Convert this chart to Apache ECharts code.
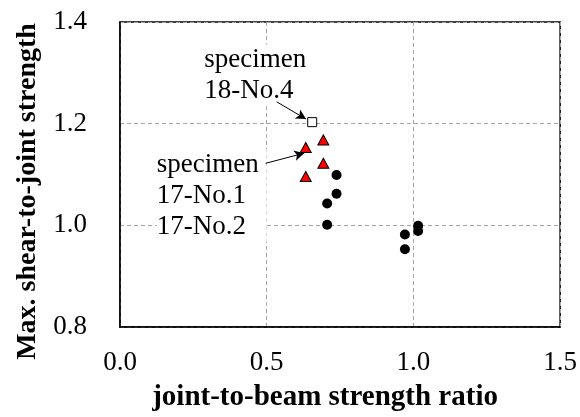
<!DOCTYPE html>
<html>
<head>
<meta charset="utf-8">
<script src="https://cdn.jsdelivr.net/npm/echarts@6/dist/echarts.min.js"></script>
<style>
  html, body { margin: 0; padding: 0; background: #fff; }
  #chart { width: 580px; height: 417px; }
</style>
</head>
<body>
<div id="chart"></div>
<script>
// measured points
const circleX = [0.738, 0.738, 0.706, 0.706, 0.971, 0.971, 1.016, 1.016]
const circleY = [1.099, 1.062, 1.043, 1.001, 0.982, 0.953, 0.999, 0.989]
const triX = [0.693, 0.633, 0.693, 0.633]
const triY = [1.168, 1.153, 1.122, 1.096]
const squareX = [0.655]
const squareY = [1.203]

const xTicks = [0, 0.5, 1.0, 1.5]
const yTicks = [0.8, 1.0, 1.2, 1.4]

const note18 = ['specimen', '18-No.4']
const note17 = ['specimen', '17-No.1', '17-No.2']

const FONT = '"Times New Roman", "Liberation Serif", serif'

function pairs(xs, ys) {
  return xs.map((x, i) => [x, ys[i]])
}

const chart = echarts.init(document.getElementById('chart'))

const option = {
  animation: false,
  grid: {
    left: 120,
    right: 16,
    top: 22,
    bottom: 90,
    show: true,
    borderColor: '#000',
    borderWidth: 1.5
  },
  xAxis: {
    type: 'value',
    min: xTicks[0],
    max: xTicks[xTicks.length - 1],
    interval: 0.5,
    name: 'joint-to-beam strength ratio',
    nameLocation: 'middle',
    nameGap: 56,
    nameTextStyle: {
      fontFamily: FONT, fontSize: 29, fontWeight: 'bold', color: '#000',
      padding: [0, 30, 0, 0]
    },
    axisLine: { show: true, lineStyle: { color: '#000', width: 1.5 } },
    axisTick: { show: false },
    axisLabel: {
      margin: 22,
      fontFamily: FONT, fontSize: 27, color: '#000',
      formatter: v => v.toFixed(1)
    },
    splitLine: { show: true, lineStyle: { type: [4, 3], color: '#a6a6a6', width: 1 } }
  },
  yAxis: {
    type: 'value',
    min: yTicks[0],
    max: yTicks[yTicks.length - 1],
    interval: 0.2,
    name: 'Max. shear-to-joint strength',
    nameLocation: 'middle',
    nameGap: 78,
    nameTextStyle: {
      fontFamily: FONT, fontSize: 28, fontWeight: 'bold', color: '#000',
      padding: [0, 34, 0, 0]
    },
    axisLine: { show: true, lineStyle: { color: '#000', width: 1.5 } },
    axisTick: { show: false },
    axisLabel: {
      margin: 33,
      fontFamily: FONT, fontSize: 27, color: '#000',
      formatter: v => v.toFixed(1)
    },
    splitLine: { show: true, lineStyle: { type: [4, 3], color: '#a6a6a6', width: 1 } }
  },
  series: [
    {
      name: 'circle',
      type: 'scatter',
      symbol: 'circle',
      symbolSize: 10,
      itemStyle: { color: '#000', opacity: 1 },
      data: pairs(circleX, circleY)
    },
    {
      name: 'triangle',
      type: 'scatter',
      symbol: 'triangle',
      symbolSize: [11, 10],
      itemStyle: { color: '#ff0000', borderColor: '#000', borderWidth: 1, opacity: 1 },
      data: pairs(triX, triY)
    },
    {
      name: 'square',
      type: 'scatter',
      symbol: 'rect',
      symbolSize: 9,
      z: 3,
      itemStyle: { color: '#fff', borderColor: '#000', borderWidth: 1, opacity: 1 },
      data: pairs(squareX, squareY),
      markLine: {
        silent: true,
        symbol: ['none', 'arrow'],
        symbolSize: [8, 10],
        label: { show: false },
        lineStyle: { color: '#000', width: 1, type: 'solid' },
        data: [
          [{ coord: [0.534, 1.243] }, { coord: [0.634, 1.209] }],
          [{ coord: [0.496, 1.122] }, { coord: [0.628, 1.142] }]
        ]
      }
    }
  ]
}

chart.setOption(option)

// annotation text blocks anchored in data space
const p18 = chart.convertToPixel({ gridIndex: 0 }, [0.287, 1.356])
const p17 = chart.convertToPixel({ gridIndex: 0 }, [0.125, 1.150])

chart.setOption({
  graphic: [
    {
      type: 'text',
      x: p18[0],
      y: p18[1],
      z: 1,
      style: {
        text: note18.join('\n'),
        font: '27px ' + FONT,
        fill: '#000',
        lineHeight: 31,
        backgroundColor: '#fff',
        padding: [0, 6, 0, 0]
      }
    },
    {
      type: 'text',
      x: p17[0],
      y: p17[1],
      z: 1,
      style: {
        text: note17.join('\n'),
        font: '27px ' + FONT,
        fill: '#000',
        lineHeight: 31,
        backgroundColor: '#fff',
        padding: [0, 8, 0, 0]
      }
    }
  ]
})
</script>
</body>
</html>
